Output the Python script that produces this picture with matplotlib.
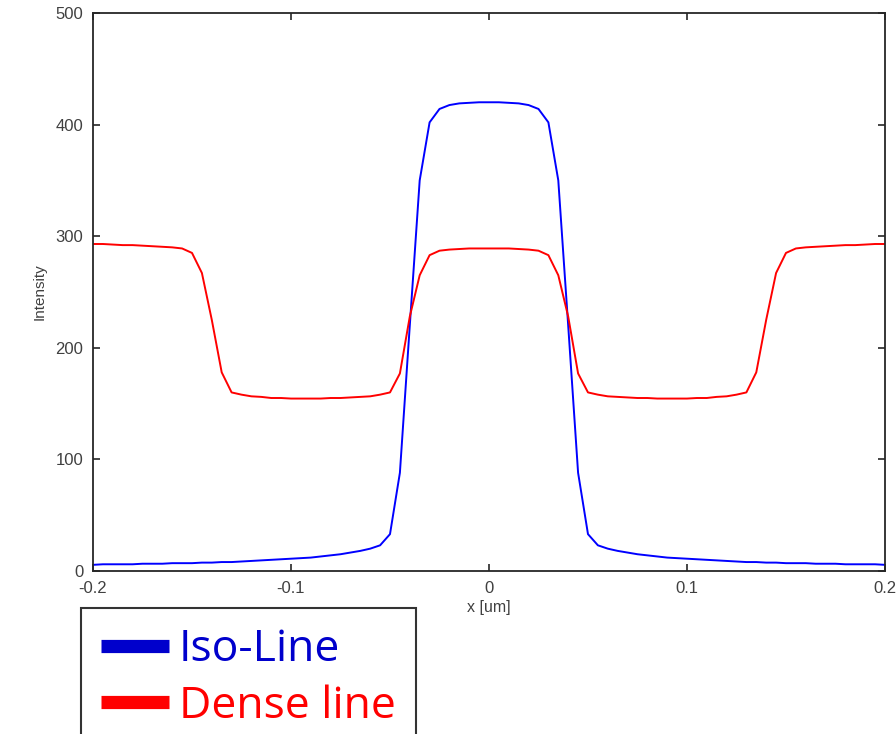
import numpy as np
import matplotlib
matplotlib.use("Agg")
import matplotlib.pyplot as plt
from matplotlib.lines import Line2D

# x positions (um), 0.005 step
x = np.linspace(-0.2, 0.2, 81)

iso_line = [
    5.5, 6, 6, 6, 6, 6.5, 6.5, 6.5, 7, 7, 7, 7.5, 7.5, 8, 8, 8.5, 9, 9.5, 10, 10.5,
    11, 11.5, 12, 13, 14, 15, 16.5, 18, 20, 23, 33, 88, 220, 350, 402, 414, 417.5, 419, 419.5, 420,
    420,
    420, 419.5, 419, 417.5, 414, 402, 350, 220, 88, 33, 23, 20, 18, 16.5, 15, 14, 13, 12, 11.5,
    11, 10.5, 10, 9.5, 9, 8.5, 8, 8, 7.5, 7.5, 7, 7, 7, 6.5, 6.5, 6.5, 6, 6, 6, 6, 5.5,
]

dense_line = [
    293, 293, 292.5, 292, 292, 291.5, 291, 290.5, 290, 289, 285, 267, 225, 178, 160, 158, 156.5, 156, 155, 155,
    154.5, 154.5, 154.5, 154.5, 155, 155, 155.5, 156, 156.5, 158, 160, 177, 228, 265, 283, 287, 288, 288.5, 289, 289,
    289,
    289, 289, 288.5, 288, 287, 283, 265, 228, 177, 160, 158, 156.5, 156, 155.5, 155, 155, 154.5, 154.5, 154.5,
    154.5, 155, 155, 156, 156.5, 158, 160, 178, 225, 267, 285, 289, 290, 290.5, 291, 291.5, 292, 292, 292.5, 293, 293,
]

labels = ["Iso-Line", "Dense line"]

plt.rcParams['font.family'] = ['Liberation Sans', 'DejaVu Sans']

fig = plt.figure(figsize=(8.96, 7.34), dpi=100)
ax = fig.add_axes([0.1038, 0.2221, 0.8839, 0.7602])

ax.plot(x, iso_line, color='#0000ff', lw=1.4)
ax.plot(x, dense_line, color='#ff0000', lw=1.4)

ax.set_xlim(-0.2, 0.2)
ax.set_ylim(0, 500)
ax.set_xticks([-0.2, -0.1, 0, 0.1, 0.2])
ax.set_xticklabels(['-0.2', '-0.1', '0', '0.1', '0.2'])
ax.set_yticks([0, 100, 200, 300, 400, 500])
ax.tick_params(direction='in', top=True, right=True, length=5, width=1.2,
               labelsize=12, colors='#262626', labelcolor='#404040', pad=7)
for s in ax.spines.values():
    s.set_color('#262626')
    s.set_linewidth(1.3)
ax.set_xlabel('x [um]', fontsize=11.5, color='#404040', labelpad=3)
ax.set_ylabel('Intensity', fontsize=11, color='#404040', labelpad=6)

handles = [Line2D([], [], color='#0000cc', lw=9.5, solid_capstyle='butt'),
           Line2D([], [], color='#ff0000', lw=9.5, solid_capstyle='butt')]
leg = fig.legend(handles, labels, loc='upper left', bbox_to_anchor=(0.0904, 0.1717),
                 bbox_transform=fig.transFigure, borderaxespad=0,
                 prop={'family': 'Open Sans', 'size': 32}, handlelength=1.53,
                 handletextpad=0.22, labelspacing=0.26, borderpad=0.45,
                 fancybox=False, edgecolor='#333333', framealpha=1)
leg.get_frame().set_linewidth(1.5)
leg.get_texts()[0].set_color('#0000cc')
leg.get_texts()[1].set_color('#ff0000')

fig.savefig('out.png', dpi=100)
